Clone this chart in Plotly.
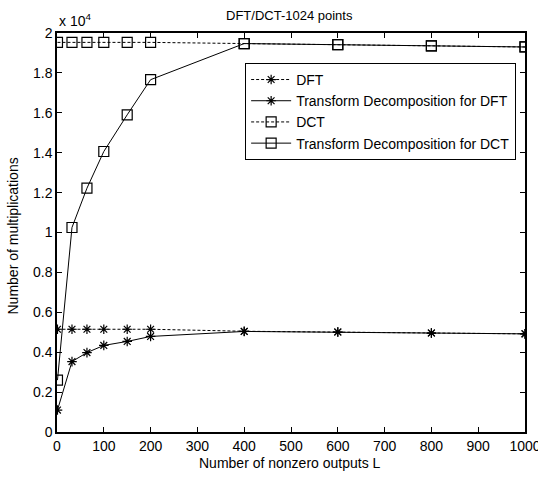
import plotly.graph_objects as go

L = [1, 32, 64, 100, 150, 200, 400, 600, 800, 1000]
dft = [5150, 5150, 5150, 5150, 5150, 5150, 5050, 5010, 4960, 4920]
td_dft = [1100, 3530, 3980, 4340, 4540, 4790, 5040, 5010, 4960, 4920]
L_dct = [1, 32, 64, 100, 150, 200, 400, 600, 800, 1000]
dct = [19530, 19530, 19530, 19530, 19530, 19530, 19470, 19420, 19350, 19300]
td_dct = [2600, 10250, 12220, 14060, 15900, 17660, 19470, 19420, 19350, 19300]

ytickvals = [0, 2000, 4000, 6000, 8000, 10000, 12000, 14000, 16000, 18000, 20000]
yticktext = ["0", "0.2", "0.4", "0.6", "0.8", "1", "1.2", "1.4", "1.6", "1.8", "2"]
xtickvals = [0, 100, 200, 300, 400, 500, 600, 700, 800, 900, 1000]

FONT = "Liberation Sans, Arial, sans-serif"
fig = go.Figure()
dash = "3px,2px"
fig.add_trace(go.Scatter(x=L, y=dft, name="DFT", mode="lines+markers",
    line=dict(color="black", width=1, dash=dash),
    marker=dict(symbol="asterisk-open", size=8, color="black", line=dict(width=1.2, color="black"))))
fig.add_trace(go.Scatter(x=L, y=td_dft, name="Transform Decomposition for DFT", mode="lines+markers",
    line=dict(color="black", width=1),
    marker=dict(symbol="asterisk-open", size=8, color="black", line=dict(width=1.2, color="black"))))
fig.add_trace(go.Scatter(x=L_dct, y=dct, name="DCT", mode="lines+markers",
    line=dict(color="black", width=1, dash=dash),
    marker=dict(symbol="square-open", size=10, color="black", line=dict(width=1.2, color="black"))))
fig.add_trace(go.Scatter(x=L_dct, y=td_dct, name="Transform Decomposition for DCT", mode="lines+markers",
    line=dict(color="black", width=1),
    marker=dict(symbol="square-open", size=10, color="black", line=dict(width=1.2, color="black"))))

axis_common = dict(showgrid=False, zeroline=False, showline=True, linecolor="black", linewidth=1.5,
                   mirror="ticks", ticks="inside", ticklen=5, tickcolor="black", automargin=False,
                   ticklabeloverflow="allow",
                   tickfont=dict(family=FONT, size=14, color="black"))
fig.update_layout(
    width=538, height=479,
    margin=dict(l=57, r=13, t=33, b=47),
    paper_bgcolor="white", plot_bgcolor="white",
    font=dict(family=FONT, size=12, color="black"),
    showlegend=True,
    legend=dict(x=0.402, y=0.925, xanchor="left", yanchor="top", bordercolor="black", borderwidth=1,
                bgcolor="white", font=dict(family=FONT, size=14), tracegroupgap=0, itemwidth=40),
    xaxis=dict(range=[0, 1000], tickvals=xtickvals, **axis_common),
    yaxis=dict(range=[0, 20000], tickvals=ytickvals, ticktext=yticktext, **axis_common),
)
fig.add_annotation(text="DFT/DCT-1024 points", xref="paper", yref="paper", x=0.497, y=1.0, yshift=18,
                   xanchor="center", yanchor="middle", showarrow=False, font=dict(family=FONT, size=13))
fig.add_annotation(text="Number of nonzero outputs L", xref="paper", yref="paper", x=0.497, y=0.0, yshift=-31,
                   xanchor="center", yanchor="middle", showarrow=False, font=dict(family=FONT, size=14))
fig.add_annotation(text="Number of multiplications", xref="paper", yref="paper", x=0.0, y=0.49, xshift=-44,
                   textangle=-90, xanchor="center", yanchor="middle", showarrow=False,
                   font=dict(family=FONT, size=14))
fig.add_annotation(text="x 10<sup>4</sup>", xref="paper", yref="paper", x=0.0, y=1.0, xanchor="left",
                   yanchor="bottom", showarrow=False, font=dict(family=FONT, size=14), yshift=2)
fig.write_html("out.html", config={"displayModeBar": False},
               post_script="document.body.style.margin='0px';")
